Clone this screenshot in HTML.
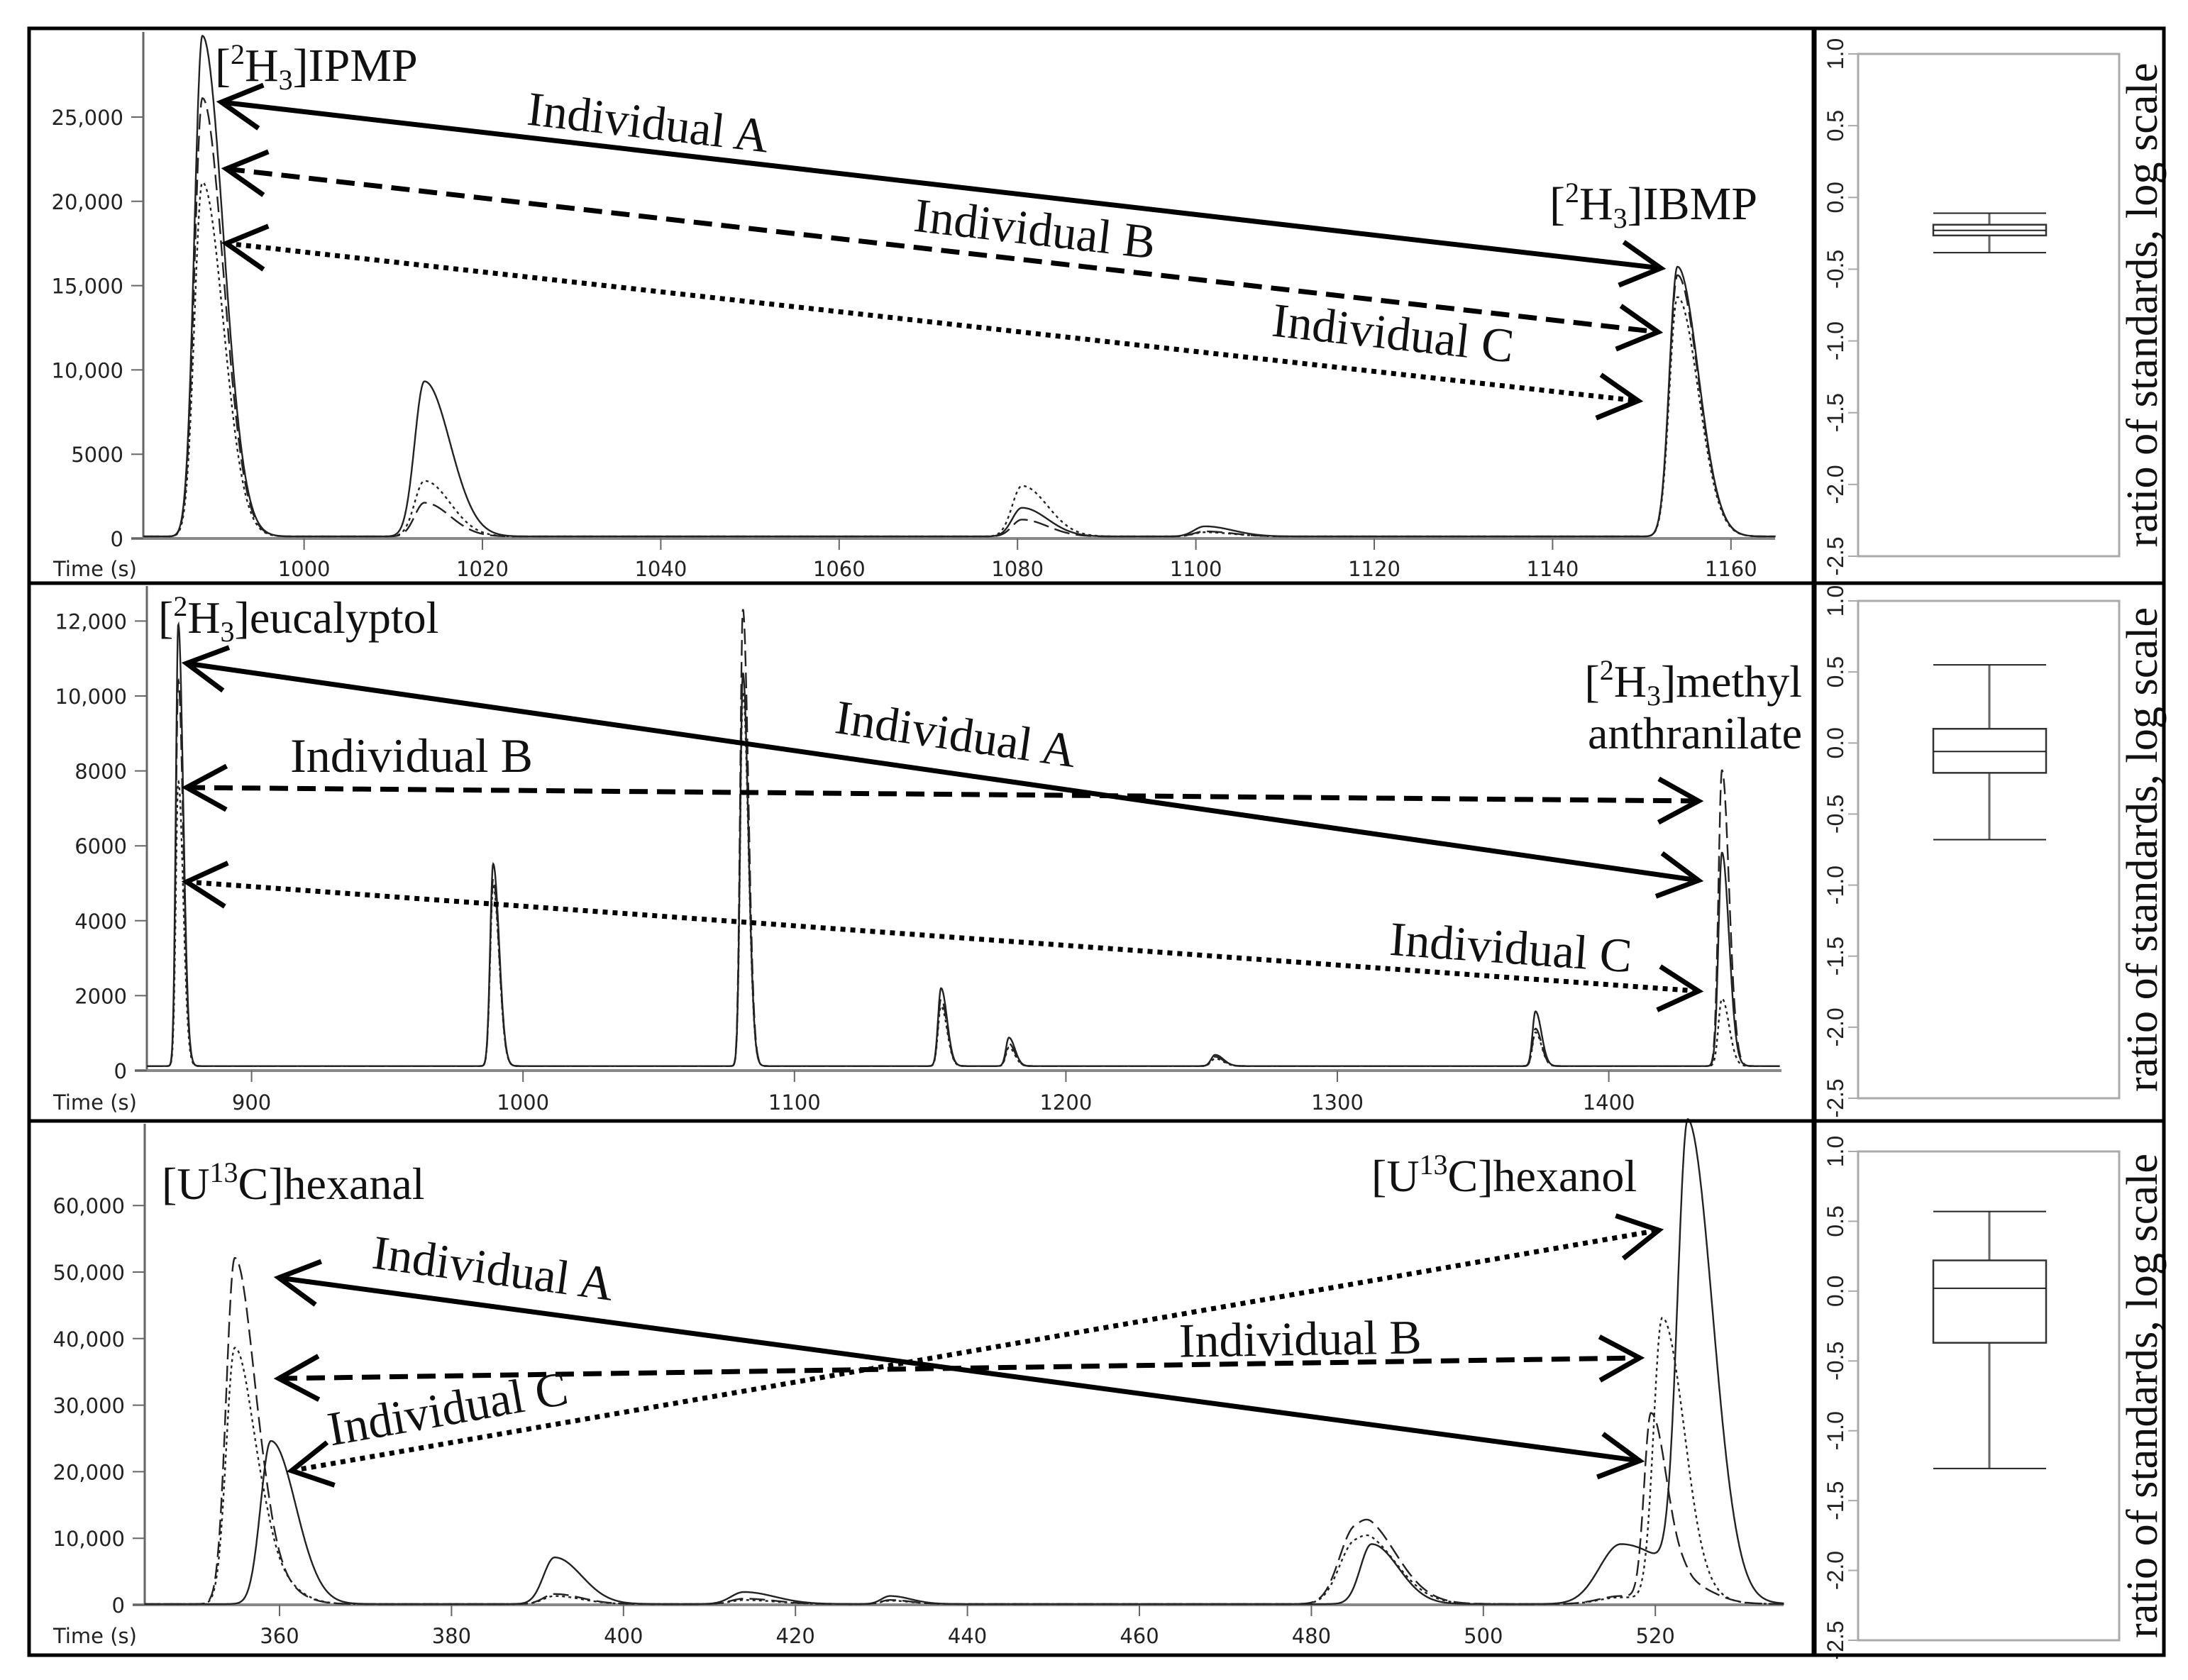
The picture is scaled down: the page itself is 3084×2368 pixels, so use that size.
<!DOCTYPE html>
<html><head><meta charset="utf-8"><style>
html,body{margin:0;padding:0;background:#fff;}
svg{display:block;}
.tick{font-family:"DejaVu Sans","Liberation Sans",sans-serif;font-size:29px;fill:#222;}
.ser{font-family:"Liberation Serif",serif;fill:#111;}
.box{font-family:"Liberation Sans",sans-serif;font-size:32px;fill:#222;}
</style></head><body>
<svg id="fig" xmlns="http://www.w3.org/2000/svg" width="3084" height="2368" viewBox="0 0 3084 2368">
<rect x="0" y="0" width="3084" height="2368" fill="#fff"/>
<g id="chrom"></g>
<g id="boxes"></g>
<g id="annot"></g>
<g fill="none" stroke="#000">
<rect x="41" y="40" width="3009" height="2293" stroke-width="5"/>
<line x1="41" y1="822" x2="3050" y2="822" stroke-width="5"/>
<line x1="41" y1="1580" x2="3050" y2="1580" stroke-width="5"/>
<line x1="2557" y1="40" x2="2557" y2="2333" stroke-width="7"/>
</g>
</svg>
<script>
// ---- Panel 1 data (IPMP / IBMP) ----
const p1Times=[988.6,1013.5,1080.5,1101,1154];
const p1Width=[0.9,1.1,1.1,1.2,0.9];
const p1Solid=[29700,9200,1700,600,16000];
const p1Dashed=[26000,2000,1000,300,15500];
const p1Dotted=[21000,3300,3000,250,14200];
const p1XTicks=[1000,1020,1040,1060,1080,1100,1120,1140,1160];
const p1YTicks=[0,5000,10000,15000,20000,25000];
const p1YLabels=["0","5000","10,000","15,000","20,000","25,000"];
// ---- Panel 2 data (eucalyptol / methyl anthranilate) ----
const p2Times=[873,989,1081,1154,1179,1255,1373,1441.7];
const p2Width=[0.9,1.1,1.0,1.1,1.1,1.5,1.1,1.3];
const p2Solid=[11800,5400,10500,2080,760,300,1460,5700];
const p2Dashed=[10300,5000,12200,1800,600,250,1000,7900];
const p2Dotted=[7600,4800,10000,1600,500,200,900,1800];
const p2XTicks=[900,1000,1100,1200,1300,1400];
const p2YTicks=[0,2000,4000,6000,8000,10000,12000];
const p2YLabels=["0","2000","4000","6000","8000","10,000","12,000"];
// ---- Panel 3 data (hexanal / hexanol) ----
const p3Times=[354.8,359,392,414,431,485,487,516,519.5,520.8,523.8];
const p3Width=[1.0,1.2,1.3,1.5,1.0,1.8,1.3,2.5,0.8,1.0,1.2];
const p3Solid=[0,24500,7000,1800,1200,0,9000,9000,0,0,69000];
const p3Dashed=[52000,3000,1500,800,600,11000,2500,1200,27700,0,2500];
const p3Dotted=[38500,3500,1200,600,500,9000,2000,1000,0,42200,2000];
const p3XTicks=[360,380,400,420,440,460,480,500,520];
const p3YTicks=[0,10000,20000,30000,40000,50000,60000];
const p3YLabels=["0","10,000","20,000","30,000","40,000","50,000","60,000"];
// ---- Box plot data: [whiskerLow, q1, median, q3, whiskerHigh] ----
const boxP1=[-0.385,-0.265,-0.23,-0.19,-0.11];
const boxP2=[-0.68,-0.21,-0.06,0.10,0.55];
const boxP3=[-1.27,-0.37,0.02,0.22,0.57];
const boxTicks=[1.0,0.5,0.0,-0.5,-1.0,-1.5,-2.0,-2.5];
const boxTickLabels=["1.0","0.5","0.0","-0.5","-1.0","-1.5","-2.0","-2.5"];

const NS="http://www.w3.org/2000/svg";
function mk(tag,attrs,parent){const e=document.createElementNS(NS,tag);for(const k in attrs)e.setAttribute(k,attrs[k]);if(parent)parent.appendChild(e);return e;}

const panels=[
 {t0:982,t1:1165,x0:202,x1:2502,xRef:1000,xRefPx:428.6,pps:12.57,yBase:759,ppv:118.8/5000,top:45,
  times:p1Times,width:p1Width,series:[p1Solid,p1Dashed,p1Dotted],xt:p1XTicks,yt:p1YTicks,yl:p1YLabels,timeY:812,tail:2.6,name:'ipmp'},
 {t0:861.5,t1:1463,x0:207,x1:2511,xRef:900,xRefPx:354.6,pps:3.826,yBase:1509,ppv:105.6/2000,top:826,
  times:p2Times,width:p2Width,series:[p2Solid,p2Dashed,p2Dotted],xt:p2XTicks,yt:p2YTicks,yl:p2YLabels,timeY:1564,tail:2.0,name:'eucalyptol'},
 {t0:344.3,t1:535,x0:204,x1:2514,xRef:360,xRefPx:394,pps:12.12,yBase:2262,ppv:93.8/10000,top:1584,
  times:p3Times,width:p3Width,series:[p3Solid,p3Dashed,p3Dotted],xt:p3XTicks,yt:p3YTicks,yl:p3YLabels,timeY:2316,tail:2.4,name:'hexanal'}
];
const dashes=["none","22 9","4 5"];
const serNames=["solid","dashed","dotted"];
const chrom=document.getElementById('chrom');
panels.forEach((P,pi)=>{
  const g=mk('g',{},chrom);
  
  
  const X=t=>P.xRefPx+(t-P.xRef)*P.pps;
  const Y=v=>P.yBase-v*P.ppv;
  const ya=mk('line',{x1:P.x0,y1:P.top,x2:P.x0,y2:P.yBase,stroke:'#666','stroke-width':3},g);
  
  const xa=mk('line',{x1:P.x0-17,y1:P.yBase,x2:P.x1,y2:P.yBase,stroke:'#888','stroke-width':4},g);
  
  P.yt.forEach((v,i)=>{
    mk('line',{x1:P.x0-17,y1:Y(v),x2:P.x0,y2:Y(v),stroke:'#666','stroke-width':2},g);
    const tx=mk('text',{x:P.x0-28,y:Y(v)+11,'text-anchor':'end',class:'tick'},g);
    tx.textContent=P.yl[i];
    
  });
  P.xt.forEach(t=>{
    mk('line',{x1:X(t),y1:P.yBase,x2:X(t),y2:P.yBase+16,stroke:'#666','stroke-width':2},g);
    const tx=mk('text',{x:X(t),y:P.timeY,'text-anchor':'middle',class:'tick'},g);
    tx.textContent=String(t);
    
  });
  const tl=mk('text',{x:75,y:P.timeY,class:'tick'},g);
  tl.textContent='Time (s)';
  
  P.series.forEach((vals,si)=>{
    let d='';
    const step=(P.t1-P.t0)/4000;
    for(let t=P.t0;t<=P.t1;t+=step){
      let v=120;
      for(let k=0;k<P.times.length;k++){
        const s=P.width[k]*(t<P.times[k]?1:P.tail);
        const z=(t-P.times[k])/s;
        v+=vals[k]*Math.exp(-0.5*z*z);
      }
      d+=(d?'L':'M')+X(t).toFixed(1)+','+Y(v).toFixed(1);
    }
    const p=mk('path',{d:d,fill:'none',stroke:'#222','stroke-width':2.4,'stroke-dasharray':dashes[si]},g);
    
    
  });
});

const boxDefs=[{d:boxP1,top:76,bot:784,name:'p1'},{d:boxP2,top:847,bot:1548,name:'p2'},{d:boxP3,top:1623,bot:2312,name:'p3'}];
const bg=document.getElementById('boxes');
boxDefs.forEach(B=>{
  const g=mk('g',{},bg);
  
  
  const Y=v=>B.top+(1.0-v)*(B.bot-B.top)/3.5;
  mk('rect',{x:2619,y:B.top,width:368,height:B.bot-B.top,fill:'none',stroke:'#aaa','stroke-width':3},g);
  boxTicks.forEach((v,i)=>{
    mk('line',{x1:2605,y1:Y(v),x2:2619,y2:Y(v),stroke:'#aaa','stroke-width':2},g);
    const tx=mk('text',{x:0,y:0,'text-anchor':'middle',class:'box',transform:`translate(2598,${Y(v)}) rotate(-90)`},g);
    tx.textContent=boxTickLabels[i];
    
  });
  const [wl,q1,md,q3,wh]=B.d, cx=2804, x0=2725, x1=2884;
  mk('line',{x1:cx,y1:Y(wh),x2:cx,y2:Y(wl),stroke:'#666','stroke-width':3},g);
  mk('line',{x1:x0,y1:Y(wh),x2:x1,y2:Y(wh),stroke:'#222','stroke-width':2},g);
  mk('line',{x1:x0,y1:Y(wl),x2:x1,y2:Y(wl),stroke:'#222','stroke-width':2},g);
  const r=mk('rect',{x:x0,y:Y(q3),width:x1-x0,height:Y(q1)-Y(q3),fill:'#fff',stroke:'#333','stroke-width':2.5},g);
  
  mk('line',{x1:x0,y1:Y(md),x2:x1,y2:Y(md),stroke:'#222','stroke-width':2},g);
  const at=mk('text',{x:0,y:0,'text-anchor':'middle',class:'ser','font-size':62,textLength:683,lengthAdjust:'spacingAndGlyphs',transform:`translate(3040,${(B.top+B.bot)/2}) rotate(-90)`},g);
  at.textContent='ratio of standards, log scale';
  
});

const an=document.getElementById('annot');
function arrow(x1,y1,x2,y2,style,name){
  const g=mk('g',{},an);
  
  const da=style==='dash'?'26 13':style==='dot'?'7 7':'none';
  mk('line',{x1,y1,x2,y2,stroke:'#000','stroke-width':7,'stroke-dasharray':da},g);
  [[x1,y1,x2,y2],[x2,y2,x1,y1]].forEach(([tx,ty,fx,fy])=>{
    const a=Math.atan2(ty-fy,tx-fx),L=64,w=0.5;
    const p1=[tx-L*Math.cos(a-w),ty-L*Math.sin(a-w)],p2=[tx-L*Math.cos(a+w),ty-L*Math.sin(a+w)];
    mk('polyline',{points:`${p1[0]},${p1[1]} ${tx},${ty} ${p2[0]},${p2[1]}`,fill:'none',stroke:'#000','stroke-width':7},g);
  });
}
function label(x,y,txt,rot,size,name,anchor){
  const t=mk('text',{x:0,y:0,class:'ser','font-size':size,'text-anchor':anchor||'middle',transform:`translate(${x},${y}) rotate(${rot})`},an);
  t.innerHTML=txt;
  
}
const H3='[<tspan font-size="40" dy="-24">2</tspan><tspan dy="24">H</tspan><tspan font-size="40" dy="12">3</tspan><tspan dy="-12">]</tspan>';
const U13='[U<tspan font-size="40" dy="-24">13</tspan><tspan dy="24">C]</tspan>';
arrow(312,144,2341,378,'solid','arrow-individual-a-p1');
arrow(319,238,2337,468,'dash','arrow-individual-b-p1');
arrow(319,343,2309,565,'dot','arrow-individual-c-p1');
label(303,114,H3+'IPMP',0,66,'label-ipmp','start');
label(2184,309,H3+'IBMP',0,66,'label-ibmp','start');
label(911,195,'Individual A',6.6,68,'label-individual-a-p1');
label(1456,345,'Individual B',6.6,68,'label-individual-b-p1');
label(1961,492,'Individual C',6.3,68,'label-individual-c-p1');
arrow(263,935,2394,1241,'solid','arrow-individual-a-p2');
arrow(263,1110,2394,1129,'dash','arrow-individual-b-p2');
arrow(263,1243,2394,1397,'dot','arrow-individual-c-p2');
label(223,892,H3+'eucalyptol',0,64,'label-eucalyptol','start');
label(2540,982,H3+'methyl',0,64,'label-methyl','end');
label(2540,1055,'anthranilate',0,64,'label-anthranilate','end');
label(1344,1057,'Individual A',8.2,68,'label-individual-a-p2');
label(580,1088,'Individual B',0,68,'label-individual-b-p2');
label(2128,1358,'Individual C',4.1,68,'label-individual-c-p2');
arrow(393,1801,2311,2059,'solid','arrow-individual-a-p3');
arrow(393,1943,2311,1914,'dash','arrow-individual-b-p3');
arrow(411,2073,2338,1734,'dot','arrow-individual-c-p3');
label(228,1690,U13+'hexanal',0,64,'label-hexanal','start');
label(1933,1679,U13+'hexanol',0,64,'label-hexanol','start');
label(692,1810,'Individual A',7.7,68,'label-individual-a-p3');
label(1833,1910,'Individual B',-0.9,68,'label-individual-b-p3');
label(635,2008,'Individual C',-10,68,'label-individual-c-p3');
</script>
</body></html>
